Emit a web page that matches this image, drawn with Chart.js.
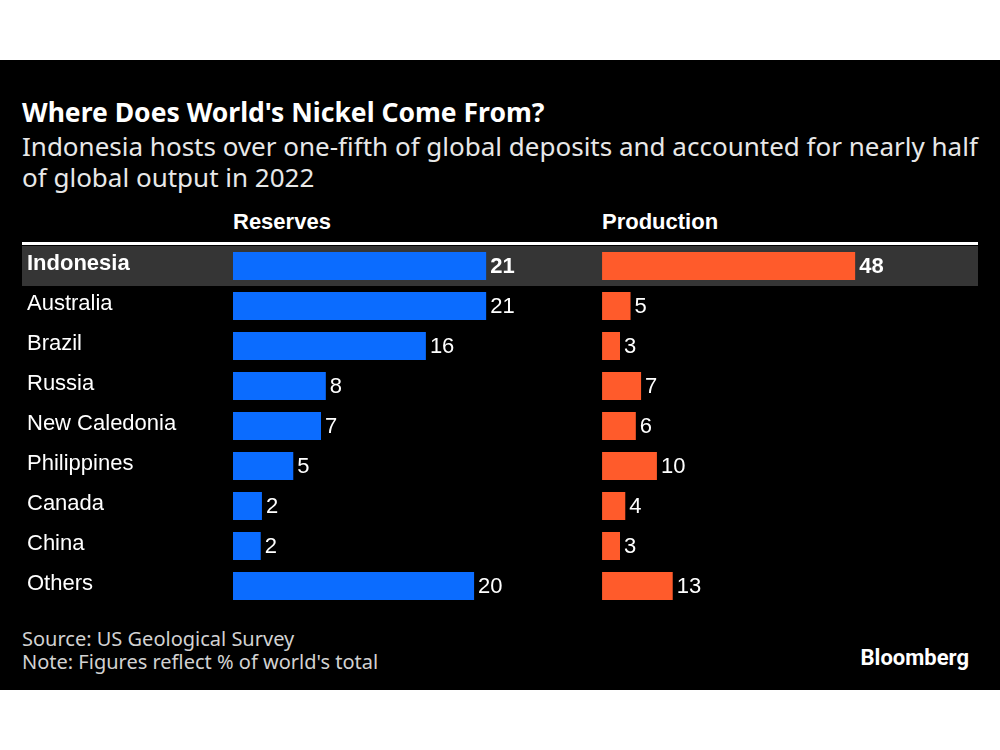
<!DOCTYPE html>
<html>
<head>
<meta charset="utf-8">
<script src="https://cdn.jsdelivr.net/npm/chart.js@4.4.0/dist/chart.umd.min.js"></script>
<style>
  html, body { margin: 0; padding: 0; background: #fff; }
  #page { position: relative; width: 1000px; height: 750px; overflow: hidden; }
  #panel { position: absolute; left: 0; top: 60px; width: 1000px; height: 630px; background: #000; }
  .txt { position: absolute; white-space: nowrap; line-height: 1; }
  .title { left: 22px; top: 94px; font: bold 26.5px "Noto Sans"; color: #fff; }
  .sub { left: 22px; font: 26px "Noto Sans"; color: #e8e8e8; }
  .head { top: 209px; font: bold 22px "Liberation Sans"; color: #fff; }
  .foot { left: 22px; font: 20px "Noto Sans"; color: #d2d2d2; }
  .brand { right: 31px; top: 645px; font: bold 22px Roboto; color: #fff; }
  #chart { position: absolute; left: 0; top: 0; }
</style>
</head>
<body>
<div id="page">
  <div id="panel"></div>
  <div class="txt title">Where Does World's Nickel Come From?</div>
  <div class="txt sub" style="top:128px">Indonesia hosts over one-fifth of global deposits and accounted for nearly half</div>
  <div class="txt sub" style="top:158.5px">of global output in 2022</div>
  <div class="txt head" style="left:233px">Reserves</div>
  <div class="txt head" style="left:602px">Production</div>
  <div class="txt foot" style="top:625px">Source: US Geological Survey</div>
  <div class="txt foot" style="top:648px">Note: Figures reflect % of world's total</div>
  <div class="txt brand">Bloomberg</div>
  <canvas id="chart" width="1000" height="750"></canvas>
</div>
<script>
const countries = ['Indonesia', 'Australia', 'Brazil', 'Russia', 'New Caledonia', 'Philippines', 'Canada', 'China', 'Others'];
const reserves = [21, 21, 16, 7.7, 7.3, 5, 2.4, 2.3, 20];
const production = [48, 5.4, 3.4, 7.4, 6.4, 10.4, 4.4, 3.4, 13.4];
const highlightIndex = 0;

// gray band behind the highlighted row plus the white rule above the table
const rowBand = {
    id: 'rowBand',
    beforeDraw(chart) {
        const {ctx, chartArea, scales: {y}} = chart;
        const yc = y.getPixelForValue(highlightIndex);
        const half = (y.getPixelForValue(1) - y.getPixelForValue(0)) / 2;
        ctx.save();
        ctx.fillStyle = '#353535';
        ctx.fillRect(22, yc - half, 956, half * 2);
        ctx.fillStyle = '#fff';
        ctx.fillRect(22, chartArea.top - 4, 956, 3);
        ctx.restore();
    }
};

const valueLabels = {
    id: 'valueLabels',
    afterDatasetsDraw(chart) {
        const ctx = chart.ctx;
        ctx.save();
        ctx.fillStyle = '#fff';
        ctx.textAlign = 'left';
        ctx.textBaseline = 'middle';
        chart.data.datasets.forEach((ds, di) => {
            chart.getDatasetMeta(di).data.forEach((bar, i) => {
                ctx.font = (i === highlightIndex ? 'bold ' : '') + '22px "Liberation Sans"';
                ctx.fillText(Math.round(ds.data[i]), bar.x + 4, bar.y + 1);
            });
        });
        ctx.restore();
    }
};

new Chart(document.getElementById('chart'), {
    type: 'bar',
    data: {
        labels: countries,
        datasets: [
            {
                label: 'Reserves',
                data: reserves,
                xAxisID: 'x',
                backgroundColor: '#0b6cff',
                barPercentage: 0.7,
                categoryPercentage: 1,
                grouped: false
            },
            {
                label: 'Production',
                data: production,
                xAxisID: 'x2',
                backgroundColor: '#ff5b2b',
                barPercentage: 0.7,
                categoryPercentage: 1,
                grouped: false
            }
        ]
    },
    options: {
        indexAxis: 'y',
        responsive: false,
        animation: false,
        layout: { padding: { left: 27, right: 22, top: 246, bottom: 144 } },
        plugins: {
            legend: { display: false },
            tooltip: { enabled: false }
        },
        scales: {
            y: {
                position: 'left',
                grid: { display: false },
                border: { display: false },
                ticks: {
                    color: '#fff',
                    crossAlign: 'far',
                    padding: 0,
                    labelOffset: -2,
                    font: ctx => ({ family: 'Liberation Sans', size: 22, weight: ctx.index === highlightIndex ? 'bold' : 'normal' })
                },
                afterFit: scale => { scale.width = 206; }
            },
            // production axis starts left of zero so its bars begin at the second column
            x: { display: false, min: 0, max: 61.8 },
            x2: { display: false, min: -70, max: 71.3 }
        }
    },
    plugins: [rowBand, valueLabels]
});
</script>
</body>
</html>
